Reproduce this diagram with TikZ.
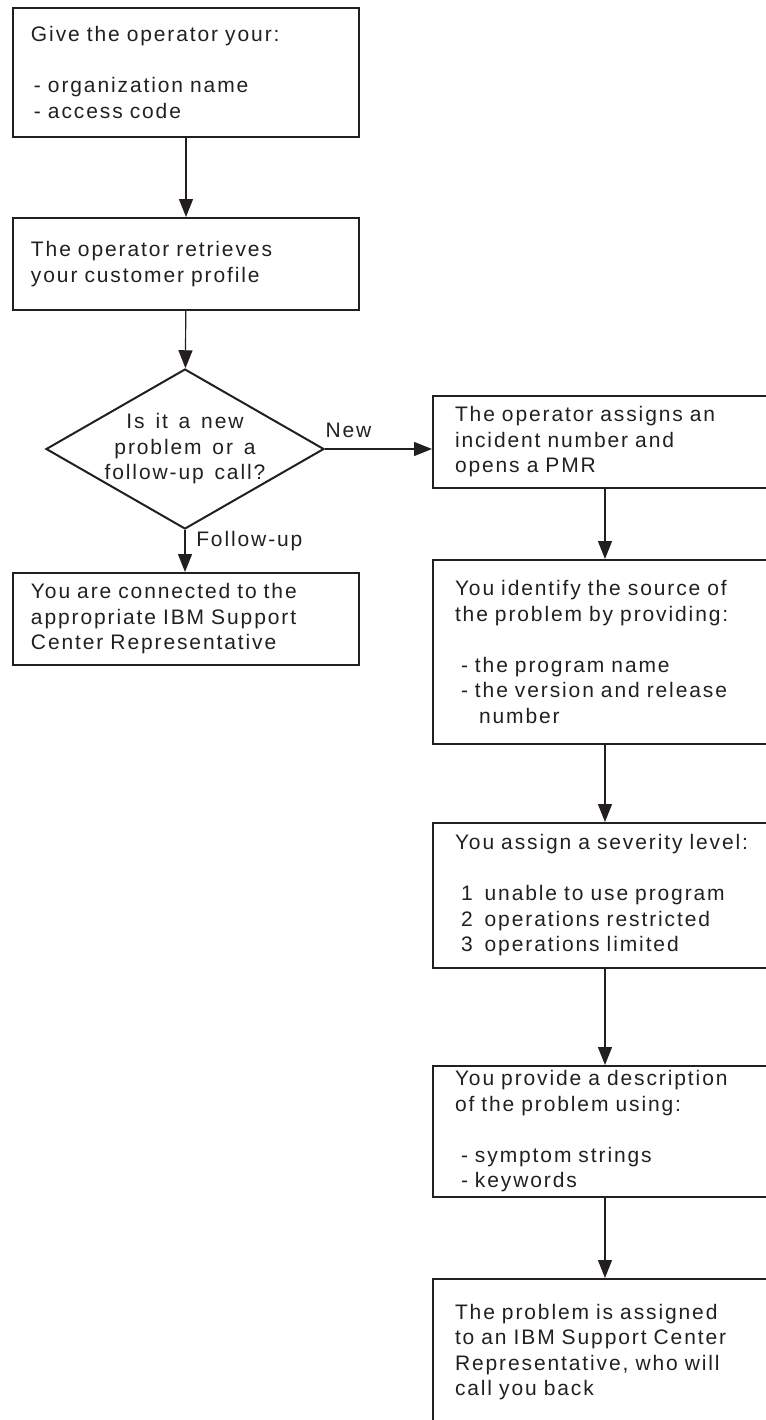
\documentclass[tikz,border=0pt]{standalone}
\usepackage{fontspec}
\setmainfont{Liberation Sans}[LetterSpace=9,WordSpace=1.4]
\usetikzlibrary{shapes.geometric,arrows.meta}
\definecolor{ink}{HTML}{231F20}
\newcommand{\fs}{\fontsize{10.5pt}{12.75pt}\selectfont}
\tikzset{
  basebox/.style={draw=ink, line width=1pt, anchor=north west, align=left,
    font=\fs, text=ink, inner ysep=0pt},
  lbox/.style={basebox, minimum width=173pt, text width=155pt, inner xsep=9pt},
  rbox/.style={basebox, minimum width=184pt, text width=162pt, inner xsep=11pt},
  decide/.style={draw=ink, line width=1pt, shape=diamond, shape aspect=1.74,
    minimum width=139pt, minimum height=80pt, inner sep=-2pt, align=center,
    font=\fs, text=ink},
  conn/.style={draw=ink, line width=0.6pt, -{Triangle[length=9pt,width=7pt]}},
  lbl/.style={font=\fs, text=ink}
}
\begin{document}
\begin{tikzpicture}[x=0.5pt, y=-0.5pt]
\useasboundingbox (0,0) rectangle (766,1420);
\clip (0,0) rectangle (766,1420);

% left column
\node[lbox, minimum height=64.5pt] (b1) at (12,7)
  {Give the operator your:\\[12.75pt]\hspace{1.5pt}- organization name\\\hspace{1.5pt}- access code};
\node[lbox, minimum height=46pt] (b2) at (12,217)
  {The operator retrieves\\your customer profile};
\node[decide] (q) at (185,449)
  {Is it a new\\problem or a\\follow-up call?};
\node[lbox, minimum height=46pt] (b4) at (12,572)
  {You are connected to the\\appropriate IBM Support\\Center Representative};

% right column
\coordinate (col) at (605,0);
\node[rbox, minimum height=46pt] (b3) at (432,395)
  {The operator assigns an\\incident number and\\opens a PMR};
\node[rbox, minimum height=92pt] (b5) at (432,559)
  {You identify the source of\\the problem by providing:\\[12.75pt]\hspace{3pt}- the program name\\\hspace{3pt}- the version and release\\\hspace{12pt}number};
\node[rbox, minimum height=72.5pt] (b6) at (432,822)
  {You assign a severity level:\\[12.75pt]\hspace{3pt}1\hspace{6pt}unable to use program\\\hspace{3pt}2\hspace{6pt}operations restricted\\\hspace{3pt}3\hspace{6pt}operations limited};
\node[rbox, minimum height=65.5pt] (b7) at (432,1065)
  {You provide a description\\of the problem using:\\[12.75pt]\hspace{3pt}- symptom strings\\\hspace{3pt}- keywords};
\node[rbox, minimum height=73pt] (b8) at (432,1278)
  {The problem is assigned\\to an IBM Support Center\\Representative, who will\\call you back};

% connectors
\draw[conn] (b1) -- (b2);
\draw[conn] (b2) -- (q);
\draw[conn] (q.south) -- (q.south |- b4.north)
  node[lbl, pos=0.27, anchor=west, xshift=2pt] {Follow-up};
\draw[conn] (q.east) -- (q.east -| b3.west)
  node[lbl, pos=0.22, anchor=south, yshift=2pt] {New};
\draw[conn] (b3.south -| col) -- (b5.north -| col);
\draw[conn] (b5.south -| col) -- (b6.north -| col);
\draw[conn] (b6.south -| col) -- (b7.north -| col);
\draw[conn] (b7.south -| col) -- (b8.north -| col);
\end{tikzpicture}
\end{document}
